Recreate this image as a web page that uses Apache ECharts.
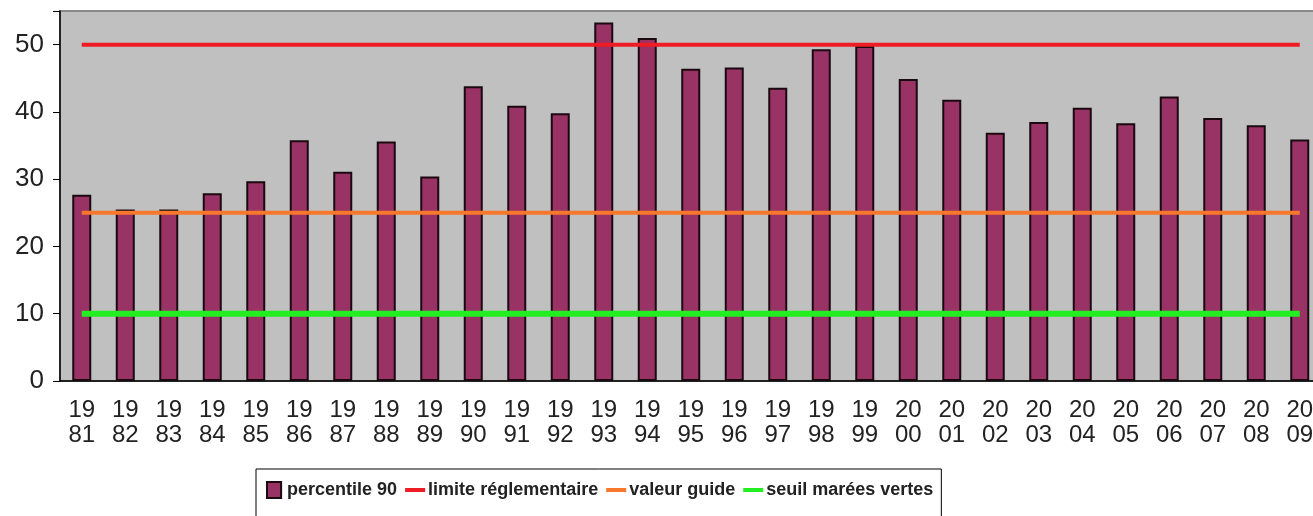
<!DOCTYPE html>
<html>
<head>
<meta charset="utf-8">
<script src="https://cdn.jsdelivr.net/npm/echarts@6/dist/echarts.min.js"></script>
<style>
  html, body { margin: 0; padding: 0; background: #fff; }
  #chart { width: 1313px; height: 516px; }
</style>
</head>
<body>
<div id="chart"></div>
<script>
// années et valeurs
const years = [
  "1981", "1982", "1983", "1984", "1985", "1986", "1987", "1988", "1989", "1990",
  "1991", "1992", "1993", "1994", "1995", "1996", "1997", "1998", "1999", "2000",
  "2001", "2002", "2003", "2004", "2005", "2006", "2007", "2008", "2009"
]
const percentile90 = [
  27.7, 25.5, 25.5, 27.9, 29.7, 35.8, 31.1, 35.6, 30.4, 43.8,
  40.9, 39.8, 53.3, 51.0, 46.4, 46.6, 43.6, 49.3, 49.8, 44.9,
  41.8, 36.9, 38.5, 40.6, 38.3, 42.3, 39.1, 38.0, 35.9
]
const limiteReglementaire = years.map(() => 50)
const valeurGuide = years.map(() => 25)
const seuilMareesVertes = years.map(() => 10)
const yTicks = [0, 10, 20, 30, 40, 50]

const chart = echarts.init(document.getElementById("chart"))

const lineSeries = (name, data, color, width) => ({
  name: name,
  type: "line",
  data: data,
  symbol: "none",
  z: 5,
  lineStyle: { color: color, width: width },
  itemStyle: { color: color }
})

// petit trait pour la légende des lignes
const lineIcon = "path://M0,0H20V4H0Z"

chart.setOption({
  animation: false,
  textStyle: { fontFamily: "Arial, Liberation Sans, sans-serif" },
  grid: {
    left: 60,
    top: 11,
    right: -8.5,
    height: 370,
    outerBoundsMode: "none",
    show: true,
    backgroundColor: "#c0c0c0",
    borderColor: "#8a8a8a",
    borderWidth: 2
  },
  legend: {
    left: 256,
    top: 469,
    padding: [12, 8, 20, 10],
    backgroundColor: "#fff",
    borderColor: "#000",
    borderWidth: 1,
    itemGap: 8,
    itemWidth: 20,
    itemHeight: 16,
    textStyle: { fontSize: 18, fontWeight: "bold", color: "#222", padding: [0, 0, 0, -2] },
    data: [
      { name: "percentile 90", icon: "path://M0,0H15V17H0Z" },
      { name: "limite réglementaire", icon: lineIcon },
      { name: "valeur guide", icon: lineIcon },
      { name: "seuil marées vertes", icon: lineIcon }
    ]
  },
  xAxis: {
    type: "category",
    data: years,
    axisLine: { lineStyle: { color: "#000", width: 1.5 } },
    axisTick: { length: 10, lineStyle: { color: "#000" } },
    axisLabel: {
      interval: 0,
      margin: 17,
      fontSize: 24,
      lineHeight: 25,
      color: "#222",
      formatter: (v) => v.slice(0, 2) + "\n" + v.slice(2)
    }
  },
  yAxis: {
    type: "value",
    min: 0,
    max: 55,
    interval: 10,
    splitLine: { show: false },
    axisLine: { show: true, lineStyle: { color: "#000", width: 1.5 } },
    axisTick: { show: true, length: 7, lineStyle: { color: "#000" } },
    axisLabel: {
      margin: 16,
      fontSize: 26,
      color: "#222",
      formatter: (v) => (yTicks.includes(v) ? String(v) : "")
    }
  },
  series: [
    {
      name: "percentile 90",
      type: "bar",
      data: percentile90,
      barWidth: 19,
      itemStyle: { color: "#993366", borderColor: "#1a0a10", borderWidth: 2 }
    },
    lineSeries("limite réglementaire", limiteReglementaire, "#ee1c24", 4),
    lineSeries("valeur guide", valeurGuide, "#f7782c", 4),
    lineSeries("seuil marées vertes", seuilMareesVertes, "#22ee22", 6)
  ]
})
</script>
</body>
</html>
